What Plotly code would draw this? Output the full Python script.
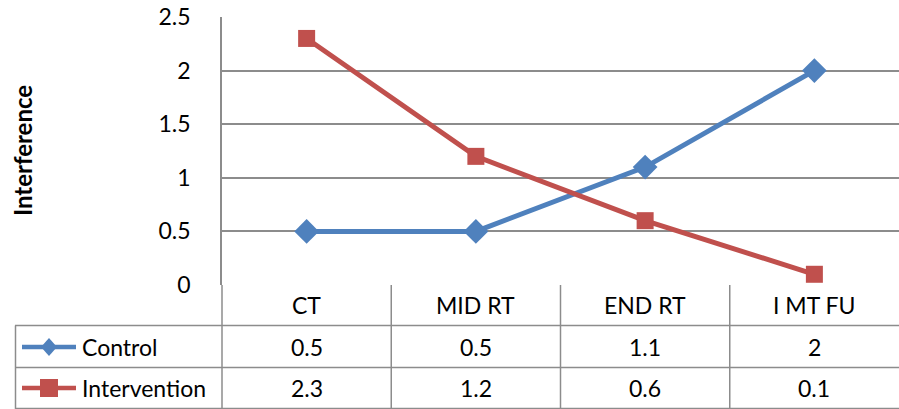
import plotly.graph_objects as go

categories = ["CT", "MID RT", "END RT", "I MT FU"]
control = [0.5, 0.5, 1.1, 2]
intervention = [2.3, 1.2, 0.6, 0.1]
series_names = ["Control", "Intervention"]
y_ticks = [0, 0.5, 1, 1.5, 2, 2.5]
y_tick_labels = ["0", "0.5", "1", "1.5", "2", "2.5"]

W, H = 899, 409
L, R, T, B = 222, 0, 17, 124
PW, PH = W - L - R, H - T - B
BLUE = "#4F81BD"
RED = "#C0504D"
GRID = "#8C8C8C"
FONT = "Lato"
FS = 23


def xp(px):
    return (px - L) / PW


def yp(py):
    return (H - B - py) / PH


xs = [i + 0.5 for i in range(len(categories))]

fig = go.Figure()
fig.add_trace(go.Scatter(x=xs, y=control, mode="lines+markers", name="Control",
                         line=dict(color=BLUE, width=5),
                         marker=dict(symbol="diamond", size=19, color=BLUE)))
fig.add_trace(go.Scatter(x=xs, y=intervention, mode="lines+markers", name="Intervention",
                         line=dict(color=RED, width=5),
                         marker=dict(symbol="square", size=17, color=RED)))

shapes = []
annotations = []
lw = 1.5
# table horizontal lines
for py, x0 in [(325.5, 15), (367.5, 15), (408.5, 15)]:
    shapes.append(dict(type="line", xref="paper", yref="paper", x0=xp(x0), x1=1,
                       y0=yp(py), y1=yp(py), line=dict(color=GRID, width=lw)))
# table vertical lines
shapes.append(dict(type="line", xref="paper", yref="paper", x0=xp(15.5), x1=xp(15.5),
                   y0=yp(325.5), y1=yp(409), line=dict(color=GRID, width=lw)))
shapes.append(dict(type="line", xref="paper", yref="paper", x0=0, x1=0,
                   y0=yp(285), y1=yp(409), line=dict(color=GRID, width=lw)))
for i in range(1, len(categories)):
    shapes.append(dict(type="line", xref="x", yref="paper", x0=i, x1=i,
                       y0=0, y1=yp(409), line=dict(color=GRID, width=lw)))

rows_y = [305, 347, 388]
txt = dict(showarrow=False, xanchor="center", yanchor="middle",
           font=dict(family=FONT, size=FS, color="#000"))
for i, c in enumerate(categories):
    annotations.append(dict(x=xs[i], y=yp(rows_y[0]), xref="x", yref="paper", text=c, **txt))
    annotations.append(dict(x=xs[i], y=yp(rows_y[1]), xref="x", yref="paper", text=str(control[i]), **txt))
    annotations.append(dict(x=xs[i], y=yp(rows_y[2]), xref="x", yref="paper", text=str(intervention[i]), **txt))

# legend keys in table
for row, (name, col, sym) in enumerate(zip(series_names, [BLUE, RED], ["diamond", "square"])):
    cy = rows_y[row + 1]
    shapes.append(dict(type="line", xref="paper", yref="paper", x0=xp(22), x1=xp(76),
                       y0=yp(cy), y1=yp(cy), line=dict(color=col, width=4.5)))
    cx = 49
    if sym == "diamond":
        path = (f"M {xp(cx)} {yp(cy-9)} L {xp(cx+8)} {yp(cy)} "
                f"L {xp(cx)} {yp(cy+9)} L {xp(cx-8)} {yp(cy)} Z")
        shapes.append(dict(type="path", xref="paper", yref="paper", path=path,
                           fillcolor=col, line=dict(color=col, width=0)))
    else:
        shapes.append(dict(type="rect", xref="paper", yref="paper", x0=xp(cx-9), x1=xp(cx+9),
                           y0=yp(cy+9), y1=yp(cy-9), fillcolor=col, line=dict(color=col, width=0)))
    annotations.append(dict(x=xp(80), y=yp(cy), xref="paper", yref="paper", text=name,
                            xanchor="left", yanchor="middle", showarrow=False,
                            font=dict(family=FONT, size=FS, color="#000")))

annotations.append(dict(x=xp(22), y=yp(151), xref="paper", yref="paper", text="<b>Interference</b>",
                        textangle=-90, showarrow=False, xanchor="center", yanchor="middle",
                        font=dict(family=FONT, size=24, color="#000")))

fig.update_layout(
    width=W, height=H,
    margin=dict(l=L, r=R, t=T, b=B, pad=0),
    paper_bgcolor="white", plot_bgcolor="white",
    showlegend=False,
    shapes=shapes, annotations=annotations,
    xaxis=dict(range=[0, 4], showgrid=False, zeroline=False, showticklabels=False,
               showline=False, ticks="", fixedrange=True),
    yaxis=dict(range=[0, 2.5], tickvals=y_ticks, ticktext=y_tick_labels,
               showgrid=True, gridcolor=GRID, gridwidth=1.5, zeroline=False,
               showline=True, linecolor=GRID, linewidth=1.5, ticks="",
               ticklabelstandoff=25,
               tickfont=dict(family=FONT, size=FS, color="#000")),
    font=dict(family=FONT, size=FS, color="#000"),
)

fig.write_html(
    "out.html",
    config={"displayModeBar": False},
    post_script="document.body.style.margin='0';document.body.style.overflow='hidden';",
)
